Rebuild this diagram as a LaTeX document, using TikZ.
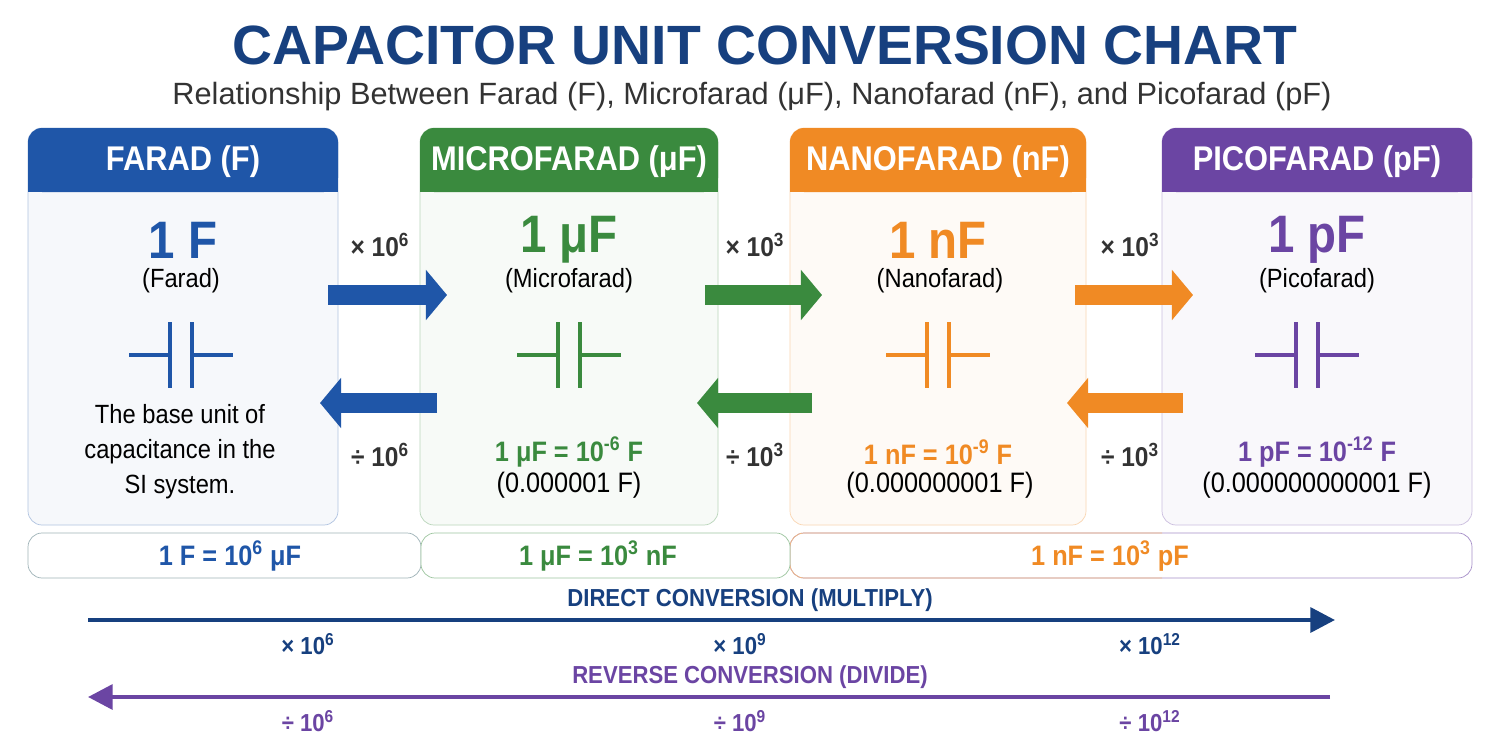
\documentclass[tikz,border=0pt]{standalone}
\usepackage{fontspec}
\setmainfont[FakeStretch=0.9]{Liberation Sans}
\newfontfamily\titlefont{Liberation Sans}
\usetikzlibrary{arrows.meta}
\definecolor{cblue}{HTML}{1F56A8}
\definecolor{cnavy}{HTML}{17407F}
\definecolor{cgreen}{HTML}{3A8A3E}
\definecolor{corange}{HTML}{F08A24}
\definecolor{cpurple}{HTML}{6B45A3}
\definecolor{cgray}{HTML}{333333}
\definecolor{cline}{HTML}{9FB3B8}
\tikzset{
  hdr/.style={text=white,font=\fontsize{19.5}{19.5}\selectfont\bfseries},
  big/.style={font=\fontsize{30}{30}\selectfont\bfseries},
  sub/.style={font=\fontsize{15}{15}\selectfont,text=black},
  lbl/.style={font=\fontsize{15.5}{15.5}\selectfont\bfseries,text=cgray},
  eq/.style={font=\fontsize{16}{16}\selectfont\bfseries},
  bot/.style={font=\fontsize{14}{14}\selectfont\bfseries},
  fat/.style={line width=20pt*0.02/0.03515,-{Triangle[length=12pt,width=28pt]}},
  cap/.style={line width=2.6pt,#1},
}
\newcommand{\capsym}[3]{%
  \draw[cap=#3] (#1-52,#2) -- (#1-11,#2) (#1+11,#2) -- (#1+52,#2);
  \draw[cap=#3] (#1-11,#2-33) -- (#1-11,#2+33) (#1+11,#2-33) -- (#1+11,#2+33);}
\begin{document}
\begin{tikzpicture}[x=0.02cm,y=-0.02cm]
\fill[white] (0,0) rectangle (1500,750);
\useasboundingbox (0,0) rectangle (1500,750);
% title
\node[text=cnavy,font=\titlefont\fontsize{31.5}{31.5}\selectfont\bfseries] (title) at (765,45) {CAPACITOR UNIT CONVERSION CHART};
\node[text=cgray,font=\titlefont\fontsize{17.5}{17.5}\selectfont] (subtitle) at (752,97) {Relationship Between Farad (F), Microfarad (μF), Nanofarad (nF), and Picofarad (pF)};
% boxes
\foreach \x/\w/\c/\n in {28/310/cblue/b1, 420/298/cgreen/b2, 790/296/corange/b3, 1162/310/cpurple/b4}{
  \fill[\c!4, draw=\c!35, rounded corners=8pt] (\x,128) rectangle (\x+\w,525);
  \fill[\c, rounded corners=8pt] (\x,128) rectangle (\x+\w,192);
  \fill[\c] (\x,160) rectangle (\x+\w,192);
}
\node[hdr] (h1) at (183,162) {FARAD (F)};
\node[hdr] (h2) at (569,162) {MICROFARAD (μF)};
\node[hdr] (h3) at (938,162) {NANOFARAD (nF)};
\node[hdr] (h4) at (1317,162) {PICOFARAD (pF)};
\node[big,text=cblue] (v1) at (183,240) {1 F};
\node[big,text=cgreen] (v2) at (569,240) {1 μF};
\node[big,text=corange] (v3) at (938,240) {1 nF};
\node[big,text=cpurple] (v4) at (1317,240) {1 pF};
\node[sub] (n1) at (181,281) {(Farad)};
\node[sub] (n2) at (569,281) {(Microfarad)};
\node[sub] (n3) at (940,281) {(Nanofarad)};
\node[sub] (n4) at (1317,281) {(Picofarad)};
\capsym{181}{355}{cblue}
\capsym{569}{355}{cgreen}
\capsym{938}{355}{corange}
\capsym{1307}{355}{cpurple}
\node[sub,align=center] (d1) at (180,452) {The base unit of\\[5pt]capacitance in the\\[5pt]SI system.};
\node[eq,text=cgreen] (e2) at (569,452) {1 μF = 10\textsuperscript{-6} F};
\node[eq,text=corange] (e3) at (938,452) {1 nF = 10\textsuperscript{-9} F};
\node[eq,text=cpurple] (e4) at (1317,452) {1 pF = 10\textsuperscript{-12} F};
\node[sub,font=\fontsize{16}{16}\selectfont] (f2) at (569,485) {(0.000001 F)};
\node[sub,font=\fontsize{16}{16}\selectfont] (f3) at (940,485) {(0.000000001 F)};
\node[sub,font=\fontsize{16}{16}\selectfont] (f4) at (1317,485) {(0.000000000001 F)};
% step arrows
\foreach \a/\b/\c/\m/\e [count=\i] in {328/437/cblue/380/6, 705/812/cgreen/755/3, 1075/1183/corange/1130/3}{
  \coordinate (r\i s) at (\a,295); \coordinate (r\i e) at (\b+10,295);
  \coordinate (l\i s) at (\b,403); \coordinate (l\i e) at (\a-8,403);
  \draw[fat,\c] (r\i s) -- (r\i e);
  \draw[fat,\c] (l\i s) -- (l\i e);
  \node[lbl] (mx\i) at (\m,245) {× 10\textsuperscript{\e}};
  \node[lbl] (dv\i) at (\m,455) {÷ 10\textsuperscript{\e}};
}
% bars
\draw[cpurple!60, rounded corners=8pt, fill=white] (790,533) rectangle (1472,578);
\begin{scope}
  \clip (780,520) rectangle (1162,590);
  \draw[corange!60, rounded corners=8pt] (790,533) rectangle (1472,578);
\end{scope}
\draw[cline, rounded corners=8pt, fill=white] (28,533) rectangle (421,578);
\draw[cgreen!50, rounded corners=8pt, fill=white] (421,533) rectangle (790,578);
\node[eq,text=cblue] (q1) at (230,556) {1 F = 10\textsuperscript{6} μF};
\node[eq,text=cgreen] (q2) at (598,556) {1 μF = 10\textsuperscript{3} nF};
\node[eq,text=corange] (q3) at (1110,556) {1 nF = 10\textsuperscript{3} pF};
% direct
\node[bot,text=cnavy] (dc) at (750,600) {DIRECT CONVERSION (MULTIPLY)};
\coordinate (da) at (88,620); \coordinate (db) at (1335,620);
\draw[cnavy,line width=2.5pt,-{Triangle[length=14pt,width=14pt]}] (da) -- (db);
\foreach \x/\e [count=\i] in {308/6,740/9,1150/12}{
  \node[bot,text=cnavy] (dm\i) at (\x,644) {× 10\textsuperscript{\e}};
  }
\node[bot,text=cpurple] (rc) at (750,677) {REVERSE CONVERSION (DIVIDE)};
\coordinate (ra) at (1330,697); \coordinate (rb) at (88,697);
\draw[cpurple,line width=2.5pt,-{Triangle[length=14pt,width=14pt]}] (ra) -- (rb);
\foreach \x/\e [count=\i] in {308/6,740/9,1150/12}{
  \node[bot,text=cpurple] (rm\i) at (\x,721) {÷ 10\textsuperscript{\e}};
  }
\end{tikzpicture}
\end{document}
